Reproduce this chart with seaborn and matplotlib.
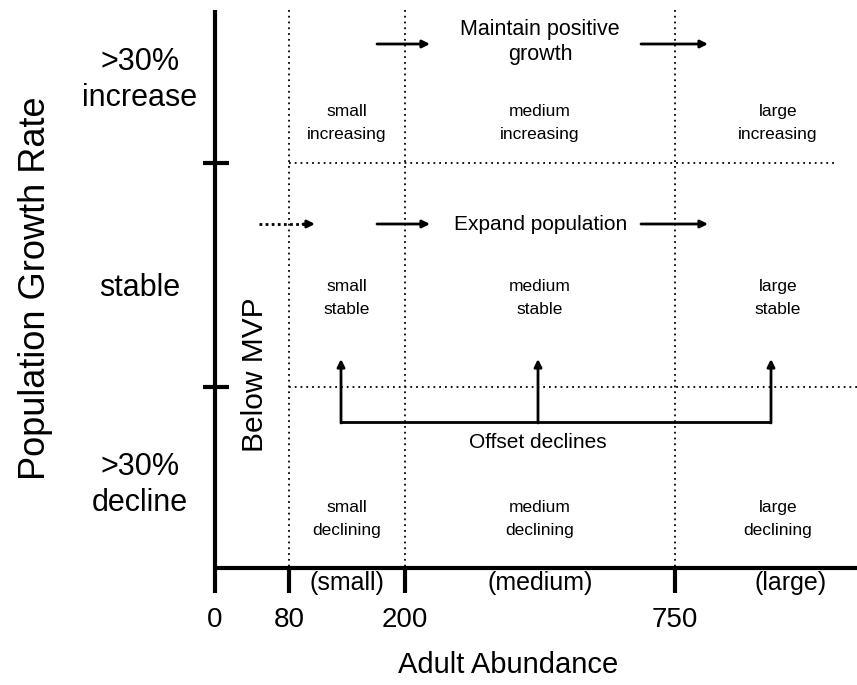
import matplotlib
matplotlib.use("Agg")
import matplotlib.pyplot as plt
import seaborn as sns

# chart content
abundance_ticks = ["0", "80", "200", "750"]
size_classes = ["(small)", "(medium)", "(large)"]
growth_rows = [">30%\nincrease", "stable", ">30%\ndecline"]
cell_sizes = ["small", "medium", "large"]
cell_trends = ["increasing", "stable", "declining"]
actions = ["Maintain positive\ngrowth", "Expand population", "Offset declines"]
x_title = "Adult Abundance"
y_title = "Population Growth Rate"
mvp_label = "Below MVP"

sns.set_theme(style="white")
plt.rcParams["font.family"] = ["Liberation Sans", "DejaVu Sans"]
plt.rcParams["text.color"] = "black"

# layout in pixel space (schematic, axis is not to scale)
x0, x_right = 215, 857
y_top, y_bot = 10, 568
tick_x = [215, 289, 405, 675]
row_bounds = [163, 387]
col_centers = [347, 540, 778]
row_centers = [123, 298, 519]

fig = plt.figure(figsize=(8.57, 6.85), dpi=100)
ax = fig.add_axes([0, 0, 1, 1])
ax.set_xlim(0, 857)
ax.set_ylim(685, 0)
ax.axis("off")

# main axes
ax.plot([x0, x0], [y_top, y_bot], color="black", lw=3, solid_capstyle="butt")
ax.plot([x0, x_right], [y_bot, y_bot], color="black", lw=3, solid_capstyle="butt")
for yb in row_bounds:
    ax.plot([203, 229], [yb, yb], color="black", lw=3, solid_capstyle="butt")
for xt, lab in zip(tick_x, abundance_ticks):
    ax.plot([xt, xt], [y_bot, 593], color="black", lw=3, solid_capstyle="butt")
    ax.text(xt, 620, lab, ha="center", va="center", fontsize=20)

# dotted grid
dots = (0, (1, 2.2))
for xt in tick_x[1:]:
    ax.plot([xt, xt], [y_top, y_bot], color="black", lw=1.3, ls=dots)
ax.plot([289, 835], [row_bounds[0]] * 2, color="black", lw=1.3, ls=dots)
ax.plot([289, 857], [row_bounds[1]] * 2, color="black", lw=1.3, ls=dots)

# size class labels under axis
for cx, lab in zip([347, 540, 791], size_classes):
    ax.text(cx, 583, lab, ha="center", va="center", fontsize=18)

# row labels
for cy, lab in zip([80, 288, 485], growth_rows):
    ax.text(140, cy, lab, ha="center", va="center", fontsize=22, linespacing=1.3)

# cell labels
for cy, trend in zip(row_centers, cell_trends):
    for cx, size in zip(col_centers, cell_sizes):
        ax.text(cx, cy, f"{size}\n{trend}", ha="center", va="center",
                fontsize=12.5, linespacing=1.6)

# axis titles
ax.text(508, 665, x_title, ha="center", va="center", fontsize=21)
ax.text(36, 288, y_title, ha="center", va="center", fontsize=26, rotation=90)
ax.text(255, 375, mvp_label, ha="center", va="center", fontsize=21.5, rotation=90)

# action annotations
ax.text(540, 42, actions[0], ha="center", va="center", fontsize=15.5, linespacing=1.3)
ax.text(541, 224, actions[1], ha="center", va="center", fontsize=15)
ax.text(538, 442, actions[2], ha="center", va="center", fontsize=15)

arrow = dict(arrowstyle="-|>", color="black", lw=2, mutation_scale=11,
             shrinkA=0, shrinkB=0)
for ya in [44, 224]:
    ax.annotate("", xy=(430, ya), xytext=(377, ya), arrowprops=arrow)
    ax.annotate("", xy=(708, ya), xytext=(641, ya), arrowprops=arrow)
ax.plot([259, 305], [224, 224], color="black", lw=2, ls=(0, (1, 1.2)))
ax.annotate("", xy=(315, 224), xytext=(303, 224), arrowprops=arrow)

# offset declines bracket
ax.plot([341, 771], [422, 422], color="black", lw=2, solid_capstyle="butt")
for xa in [341, 538, 771]:
    ax.annotate("", xy=(xa, 359), xytext=(xa, 423), arrowprops=arrow)

fig.savefig("out.png", dpi=100)
